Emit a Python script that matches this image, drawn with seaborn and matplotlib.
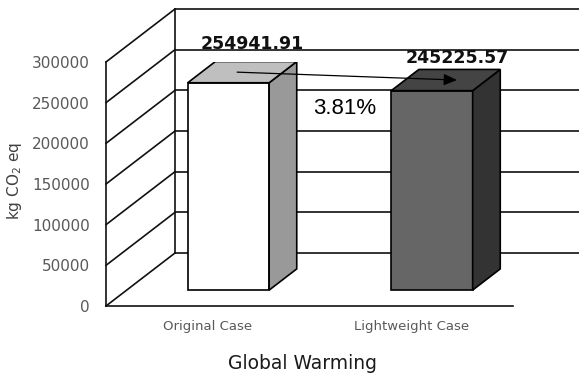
import matplotlib
matplotlib.use("Agg")
import matplotlib.pyplot as plt
import pandas as pd
import seaborn as sns
from matplotlib.patches import Polygon

# ---- data ----
categories = ["Original Case", "Lightweight Case"]
values = [254941.91, 245225.57]
value_labels = ["254941.91", "245225.57"]
change_label = "3.81%"
y_ticks = [0, 50000, 100000, 150000, 200000, 250000, 300000]
x_title = "Global Warming"
y_title = "kg CO$_2$ eq"

# ---- styling ----
front_colors = ["#ffffff", "#666666"]
side_colors = ["#999999", "#333333"]
top_colors = ["#bfbfbf", "#444444"]
label_offsets = [(-2.5, 9.0), (-1.4, 4.7)]   # points, relative to back-top centre
line_color = "#111111"

sns.set_style("white")
plt.rcParams["font.family"] = ["DejaVu Sans"]

W, H, DPI = 579, 378, 100
fig = plt.figure(figsize=(W / DPI, H / DPI), dpi=DPI)
ax = fig.add_axes([106 / W, 72 / H, 407 / W, 244 / H])

df = pd.DataFrame({"case": categories, "value": values})
sns.barplot(data=df, x="case", y="value", hue="case", palette=front_colors,
            width=0.4, edgecolor="black", linewidth=1.2, saturation=1,
            legend=False, zorder=3, ax=ax)

ymax = y_ticks[-1]
ax.set_xlim(-0.5, 1.5)
ax.set_ylim(0, ymax)

# oblique depth vector (one full unit of depth) expressed in data units
px_per_x = (407 / 2.0)
px_per_y = 244 / ymax
DX = 69 / px_per_x
DY = 53 / px_per_y

# ---- walls and floor ----
lk = dict(color=line_color, lw=1.2, clip_on=False, zorder=1,
          solid_capstyle="projecting")
x0, x1 = -0.5, 1.5
for v in y_ticks:
    ax.plot([x0, x0 + DX], [v, v + DY], **lk)               # left wall
    ax.plot([x0 + DX, x1 + DX], [v + DY, v + DY], **lk)     # back wall
ax.plot([x0, x0], [0, ymax], **lk)
ax.plot([x0 + DX, x0 + DX], [DY, ymax + DY], **lk)
ax.plot([x0, x1], [0, 0], **lk)

# ---- 3-D bar faces ----
d_front, d_back = 0.3, 0.7
ddx, ddy = (d_back - d_front) * DX, (d_back - d_front) * DY
bars = sorted(list(ax.patches), key=lambda p: p.get_x())
tops = []
for i, p in enumerate(bars):
    p.set_x(p.get_x() + d_front * DX)
    p.set_y(d_front * DY)
    x, y, w, h = p.get_x(), p.get_y(), p.get_width(), p.get_height()
    side = Polygon([(x + w, y), (x + w + ddx, y + ddy),
                    (x + w + ddx, y + h + ddy), (x + w, y + h)],
                   closed=True, facecolor=side_colors[i], edgecolor="black",
                   lw=1.2, zorder=3, joinstyle="miter")
    top = Polygon([(x, y + h), (x + ddx, y + h + ddy),
                   (x + w + ddx, y + h + ddy), (x + w, y + h)],
                  closed=True, facecolor=top_colors[i], edgecolor="black",
                  lw=1.2, zorder=3, joinstyle="miter")
    ax.add_patch(side)
    ax.add_patch(top)
    cx = x + w / 2
    tops.append((cx, y + h))
    # value label above the back edge of the top face
    ax.annotate(value_labels[i], xy=(cx + ddx, y + h + ddy),
                xytext=label_offsets[i], textcoords="offset points",
                ha="center", va="baseline", fontsize=12.5, fontweight="bold",
                color="#111111", zorder=6, annotation_clip=False)

# arrow between the two top faces
(sx, sy), (ex, ey) = tops
ax.annotate("", xy=(ex + ddx / 2 + 0.055, ey + ddy / 2),
            xytext=(sx + ddx / 2 - 0.025, sy + ddy / 2),
            arrowprops=dict(arrowstyle="-|>,head_length=0.8,head_width=0.35",
                            color="black", lw=0.9, shrinkA=0, shrinkB=0),
            zorder=6, annotation_clip=False)
ax.text(0.6745, 236000, change_label, ha="center", va="baseline",
        fontsize=16, family=["Liberation Sans", "DejaVu Sans"],
        color="black", zorder=6)

# ---- axes text ----
ax.set_yticks(y_ticks)
ax.set_yticklabels([f"{t:d}" for t in y_ticks])
ax.set_xticks(range(len(categories)))
ax.set_xticklabels(categories)
ax.tick_params(axis="y", length=0, pad=11.5, labelsize=11, labelcolor="#595959")
ax.tick_params(axis="x", length=0, pad=10, labelsize=9.5, labelcolor="#595959")
ax.set_xlabel("")
ax.set_ylabel("")
for s in ax.spines.values():
    s.set_visible(False)
ax.patch.set_alpha(0)

fig.text(303 / W, 1 - 369 / H, x_title, ha="center", va="baseline",
         fontsize=13.5, color="#1a1a1a")
fig.text(14 / W, 1 - 181 / H, y_title, ha="center", va="center",
         rotation=90, fontsize=11, color="#404040")

fig.savefig("out.png", dpi=DPI, facecolor="white")
